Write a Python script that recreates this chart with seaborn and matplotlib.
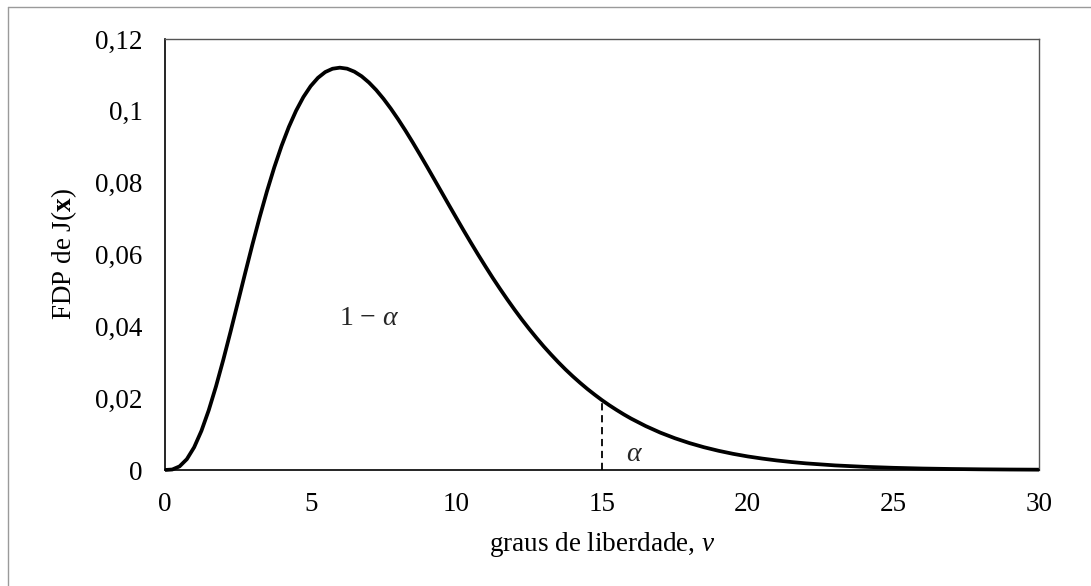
import numpy as np
import pandas as pd
import matplotlib
matplotlib.use("Agg")
import matplotlib.pyplot as plt
from matplotlib.lines import Line2D
from matplotlib.ticker import FuncFormatter
import seaborn as sns

# Probability density of J(x) versus degrees of freedom
nu = [0, 0.25, 0.5, 0.75, 1, 1.25, 1.5, 1.75, 2, 2.25, 2.5, 2.75, 3, 3.25,
      3.5, 3.75, 4, 4.25, 4.5, 4.75, 5, 5.25, 5.5, 5.75, 6, 6.25, 6.5, 6.75,
      7, 7.25, 7.5, 7.75, 8, 8.25, 8.5, 8.75, 9, 9.25, 9.5, 9.75, 10, 10.25,
      10.5, 10.75, 11, 11.25, 11.5, 11.75, 12, 12.25, 12.5, 12.75, 13, 13.25,
      13.5, 13.75, 14, 14.25, 14.5, 14.75, 15, 15.25, 15.5, 15.75, 16, 16.5,
      17, 17.5, 18, 18.5, 19, 19.5, 20, 20.5, 21, 21.5, 22, 23, 24, 25, 26,
      27, 28, 29, 30]
pdf = [0.0, 0.00014, 0.00101, 0.00302, 0.00632, 0.01089, 0.01661, 0.02327,
       0.03066, 0.03852, 0.04663, 0.05477, 0.06276, 0.07041, 0.07761, 0.08424,
       0.09022, 0.09550, 0.10004, 0.10384, 0.10688, 0.10919, 0.11080, 0.11172,
       0.11202, 0.11174, 0.11091, 0.10962, 0.10789, 0.10579, 0.10335, 0.10063,
       0.09768, 0.09454, 0.09125, 0.08784, 0.08436, 0.08082, 0.07727, 0.07371,
       0.07019, 0.06670, 0.06328, 0.05993, 0.05667, 0.05348, 0.05043, 0.04747,
       0.04462, 0.04188, 0.03928, 0.03679, 0.03440, 0.03216, 0.03001, 0.02797,
       0.02606, 0.02426, 0.02255, 0.02096, 0.01944, 0.01803, 0.01672, 0.01547,
       0.01431, 0.01223, 0.01041, 0.00885, 0.00750, 0.00634, 0.00535, 0.00450,
       0.00378, 0.00318, 0.00266, 0.00222, 0.00185, 0.00128, 0.00089, 0.00061,
       0.00041, 0.00028, 0.00019, 0.00013, 0.00009]
critical_nu = 15
critical_pdf = 0.01944
x_ticks = [0, 5, 10, 15, 20, 25, 30]
y_ticks = [0, 0.02, 0.04, 0.06, 0.08, 0.1, 0.12]

df = pd.DataFrame({"nu": nu, "pdf": pdf})

sns.set_theme(style="white")
plt.rcParams["font.family"] = ["Liberation Serif", "DejaVu Serif"]
plt.rcParams["mathtext.fontset"] = "custom"
plt.rcParams["mathtext.rm"] = "Liberation Serif"
plt.rcParams["mathtext.it"] = "Liberation Serif:italic"
plt.rcParams["mathtext.bf"] = "Liberation Serif:bold"

FS = 19.5

fig = plt.figure(figsize=(10.91, 5.86), dpi=100)
ax = fig.add_axes([165 / 1091, 1 - 470 / 586, 874 / 1091, 431 / 586])

sns.lineplot(data=df, x="nu", y="pdf", ax=ax, color="black", linewidth=2.7,
             solid_capstyle="butt", solid_joinstyle="round", clip_on=False)
ax.plot([critical_nu, critical_nu], [0, critical_pdf], color="black",
        linewidth=1.3, linestyle=(0, (4, 2.6)))

ax.set_xlim(0, 30)
ax.set_ylim(0, 0.12)
ax.set_xticks(x_ticks)
ax.set_yticks(y_ticks)

comma = FuncFormatter(lambda v, p: ("%g" % v).replace(".", ","))
ax.xaxis.set_major_formatter(comma)
ax.yaxis.set_major_formatter(comma)

ax.tick_params(axis="both", labelsize=FS, colors="black", direction="out",
               length=6, width=1)
ax.tick_params(axis="x", pad=10)
ax.tick_params(axis="y", pad=10)
for side in ["left", "bottom"]:
    ax.spines[side].set_color("black")
    ax.spines[side].set_linewidth(1.2)
for side in ["top", "right"]:
    ax.spines[side].set_color("#555555")
    ax.spines[side].set_linewidth(1.0)
    ax.spines[side].set_visible(True)

ax.set_xlabel(r"graus de liberdade, $\mathit{v}$", fontsize=FS, color="black",
              labelpad=9)
ax.set_ylabel(r"FDP de J($\mathbf{x}$)", fontsize=FS, color="black",
              labelpad=12)

ax.text(7.0, 0.0423, r"1 $-$ $\alpha$", fontsize=FS + 0.5, ha="center",
        va="center")
ax.text(16.1, 0.0042, r"$\alpha$", fontsize=FS + 0.5, ha="center",
        va="center")

# outer chart frame
fig.add_artist(Line2D([8 / 1091, 8 / 1091], [0, 1 - 7 / 586],
                      transform=fig.transFigure, color="#9a9a9a", linewidth=1))
fig.add_artist(Line2D([8 / 1091, 1], [1 - 7 / 586, 1 - 7 / 586],
                      transform=fig.transFigure, color="#9a9a9a", linewidth=1))

fig.savefig("out.png", dpi=100)
